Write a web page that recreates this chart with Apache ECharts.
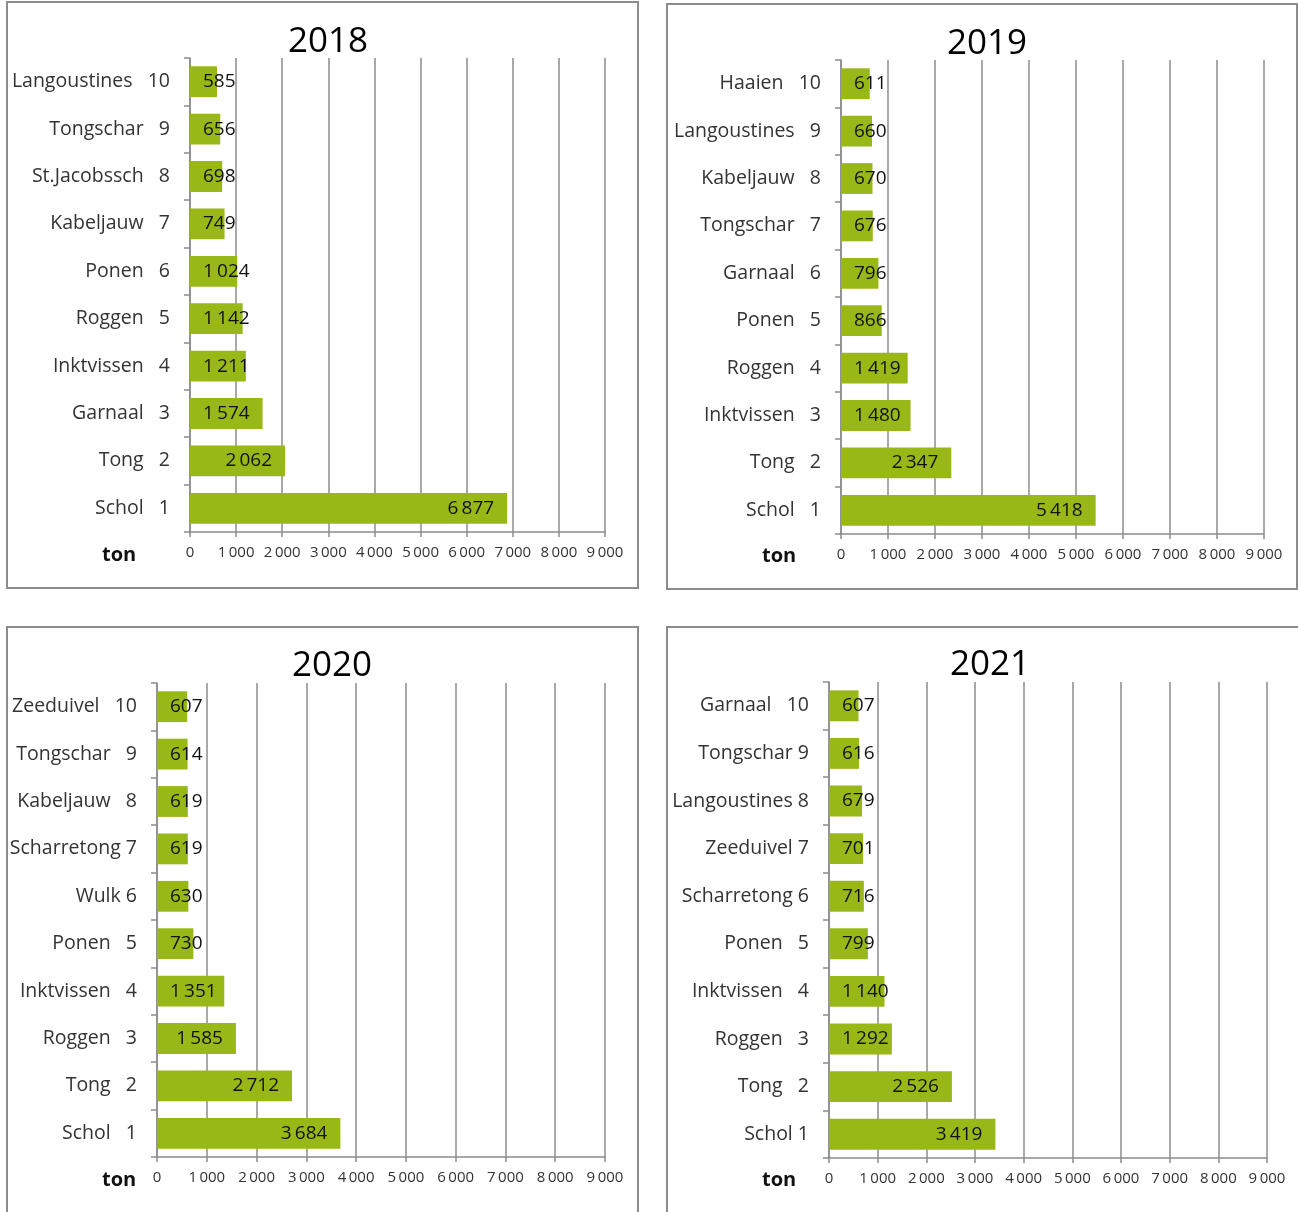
<!DOCTYPE html>
<html>
<head>
<meta charset="utf-8">
<script src="https://cdn.jsdelivr.net/npm/echarts@6/dist/echarts.min.js"></script>
<style>
  html, body { margin: 0; padding: 0; background: #ffffff; }
  #chart { width: 1298px; height: 1212px; }
</style>
</head>
<body>
<div id="chart"></div>
<script>
// ---- Data (bottom category first) ----
const years = ['2018', '2019', '2020', '2021'];

const labels2018 = ['Schol   1', 'Tong   2', 'Garnaal   3', 'Inktvissen   4', 'Roggen   5', 'Ponen   6', 'Kabeljauw   7', 'St.Jacobssch   8', 'Tongschar   9', 'Langoustines   10'];
const values2018 = [6877, 2062, 1574, 1211, 1142, 1024, 749, 698, 656, 585];

const labels2019 = ['Schol   1', 'Tong   2', 'Inktvissen   3', 'Roggen   4', 'Ponen   5', 'Garnaal   6', 'Tongschar   7', 'Kabeljauw   8', 'Langoustines   9', 'Haaien   10'];
const values2019 = [5418, 2347, 1480, 1419, 866, 796, 676, 670, 660, 611];

const labels2020 = ['Schol   1', 'Tong   2', 'Roggen   3', 'Inktvissen   4', 'Ponen   5', 'Wulk 6', 'Scharretong 7', 'Kabeljauw   8', 'Tongschar   9', 'Zeeduivel   10'];
const values2020 = [3684, 2712, 1585, 1351, 730, 630, 619, 619, 614, 607];

const labels2021 = ['Schol 1', 'Tong   2', 'Roggen   3', 'Inktvissen   4', 'Ponen   5', 'Scharretong 6', 'Zeeduivel 7', 'Langoustines 8', 'Tongschar 9', 'Garnaal   10'];
const values2021 = [3419, 2526, 1292, 1140, 799, 716, 701, 679, 616, 607];

const xTicks = [0, 1000, 2000, 3000, 4000, 5000, 6000, 7000, 8000, 9000];
const axisName = 'ton';

// ---- Layout / style ----
const FONT = '"Open Sans", "DejaVu Sans", sans-serif';
const GREEN = '#97b816';
const GRAY = '#8c8c8c';
const panels = [
  { labels: labels2018, values: values2018, grid: { left: 190, top: 58, width: 415, height: 474 }, title: [323, 20], ton: [102, 545], box: [7, 2, 631, 586] },
  { labels: labels2019, values: values2019, grid: { left: 841, top: 60, width: 423, height: 474 }, title: [982, 22], ton: [762, 546], box: [667, 4, 630, 585] },
  { labels: labels2020, values: values2020, grid: { left: 157, top: 683, width: 448, height: 474 }, title: [327, 644], ton: [102, 1170], box: [7, 627, 631, 700] },
  { labels: labels2021, values: values2021, grid: { left: 829, top: 682, width: 438, height: 476 }, title: [985, 643], ton: [762, 1170], box: [667, 627, 700, 700] }
];

function fmt(v) {
  const s = String(Math.round(v));
  return s.replace(/\B(?=(\d{3})+(?!\d))/g, '\u2009');
}

const measureCtx = document.createElement('canvas').getContext('2d');
measureCtx.font = '19px ' + FONT;
function textW(t) { return measureCtx.measureText(t).width; }

const MAXV = xTicks[xTicks.length - 1];
const PAD = 13;

const option = {
  animation: false,
  backgroundColor: '#ffffff',
  title: [],
  grid: [],
  xAxis: [],
  yAxis: [],
  series: [],
  graphic: []
};

panels.forEach((p, i) => {
  option.grid.push(Object.assign({ containLabel: false }, p.grid));
  option.title.push({
    text: years[i],
    left: p.title[0], top: p.title[1],
    textAlign: 'center',
    textStyle: { fontFamily: FONT, fontSize: 35, fontWeight: 'normal', color: '#000' }
  });
  option.xAxis.push({
    type: 'value', gridIndex: i, min: 0, max: MAXV, interval: 1000,
    axisLine: { show: true, lineStyle: { color: GRAY, width: 1.5 } },
    axisTick: { show: true, length: 5, lineStyle: { color: GRAY, width: 1.5 } },
    splitLine: { show: true, lineStyle: { color: GRAY, width: 1.5 } },
    axisLabel: { fontFamily: FONT, fontSize: 15, color: '#333', margin: 13, formatter: v => fmt(v) }
  });
  option.yAxis.push({
    type: 'category', gridIndex: i, data: p.labels,
    axisLine: { show: true, lineStyle: { color: GRAY, width: 1.5 } },
    axisTick: { show: true, length: 6, lineStyle: { color: GRAY, width: 1.5 } },
    axisLabel: { fontFamily: FONT, fontSize: 19.5, color: '#333', margin: 20 }
  });
  const ppu = p.grid.width / MAXV;
  option.series.push({
    type: 'bar', xAxisIndex: i, yAxisIndex: i,
    barCategoryGap: '35%',
    itemStyle: { color: GREEN },
    data: p.values.map(v => {
      const tw = textW(fmt(v));
      const fits = v * ppu - 2 * PAD >= tw;
      return {
        value: v,
        label: {
          show: true,
          position: fits ? 'insideRight' : 'insideLeft',
          distance: PAD,
          fontFamily: FONT, fontSize: 19, color: '#111',
          formatter: d => fmt(d.value)
        }
      };
    })
  });
  option.graphic.push({
    type: 'rect', silent: true,
    shape: { x: p.box[0], y: p.box[1], width: p.box[2], height: p.box[3] },
    style: { fill: 'none', stroke: GRAY, lineWidth: 2 },
    z: -1
  });
  option.graphic.push({
    type: 'text', silent: true,
    x: p.ton[0], y: p.ton[1],
    style: { text: axisName, font: 'bold 20px ' + FONT, fill: '#111' }
  });
});

const chart = echarts.init(document.getElementById('chart'), null, { renderer: 'canvas' });
chart.setOption(option);
</script>
</body>
</html>
